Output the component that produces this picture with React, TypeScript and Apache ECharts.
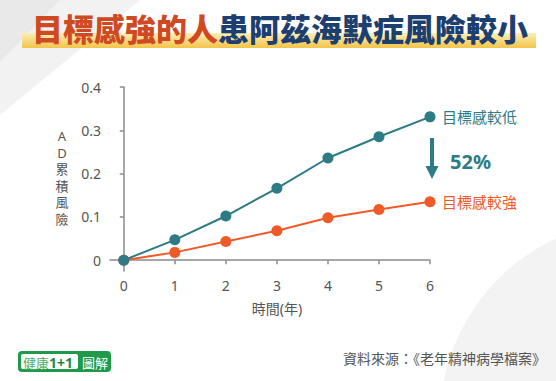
import React, { useEffect, useRef } from "react";
import * as echarts from "echarts";

const years = [0, 1, 2, 3, 4, 5, 6];
const lowPurpose = [0, 0.047, 0.102, 0.166, 0.236, 0.285, 0.331];
const highPurpose = [0, 0.018, 0.043, 0.068, 0.098, 0.117, 0.135];
const yTicks = [0, 0.1, 0.2, 0.3, 0.4];
const xTicks = [0, 1, 2, 3, 4, 5, 6];
const seriesNames = ["目標感較低", "目標感較強"];
const titleA = "目標感強的人";
const titleB = "患阿茲海默症風險較小";
const yName = ["A", "D", "累", "積", "風", "險"];
const xName = "時間(年)";
const reduction = "52%";
const source = "資料來源：《老年精神病學檔案》";

const TEAL = "#2c7b85";
const ORANGE = "#f05a28";
const FONT = "'Noto Sans', 'Noto Sans CJK TC', sans-serif";

export default function App() {
  const ref = useRef<HTMLDivElement>(null);
  useEffect(() => {
    if (!ref.current) return;
    const chart = echarts.init(ref.current, null, { renderer: "svg" });
    const pairs = (arr: number[]) => years.map((y, i) => [y, arr[i]]);
    const yNameTexts = yName.map((ch, i) => ({
      type: "text",
      x: 62,
      y: 136 + i * 16.5,
      style: { text: ch, align: "center", verticalAlign: "middle", fontSize: 13, fill: "#555", fontFamily: FONT },
    }));
    chart.setOption({
      animation: false,
      backgroundColor: "#ffffff",
      textStyle: { fontFamily: FONT },
      grid: { left: 110, right: 126, top: 87, bottom: 110 },
      xAxis: {
        type: "value",
        min: -0.27,
        max: 6,
        splitLine: { show: false },
        axisLine: { show: true, lineStyle: { color: "#8a8a8a", width: 1.5 } },
        axisTick: { show: true, customValues: xTicks, length: 4, lineStyle: { color: "#8a8a8a", width: 1.5 } },
        axisLabel: { customValues: xTicks, color: "#555", fontSize: 14, margin: 7, fontFamily: FONT },
      },
      yAxis: {
        type: "value",
        min: -0.025,
        max: 0.4,
        splitLine: { show: false },
        axisLine: { show: true, lineStyle: { color: "#8a8a8a", width: 1.5 } },
        axisTick: { show: true, customValues: yTicks, length: 4, lineStyle: { color: "#8a8a8a", width: 1.5 } },
        axisLabel: {
          customValues: yTicks,
          color: "#555",
          fontSize: 14,
          margin: 9,
          fontFamily: FONT,
          formatter: (v: number) => (Math.abs(v) < 1e-9 ? "0" : v.toFixed(1)),
        },
      },
      series: [
        {
          name: seriesNames[1],
          type: "line",
          data: pairs(highPurpose),
          symbol: "circle",
          symbolSize: 11,
          itemStyle: { color: ORANGE },
          lineStyle: { color: ORANGE, width: 2 },
          endLabel: { show: true, formatter: "{a}", color: ORANGE, fontSize: 15, distance: 12, fontFamily: FONT },
        },
        {
          name: seriesNames[0],
          type: "line",
          data: pairs(lowPurpose),
          symbol: "circle",
          symbolSize: 11,
          itemStyle: { color: TEAL },
          lineStyle: { color: TEAL, width: 2 },
          endLabel: { show: true, formatter: "{a}", color: TEAL, fontSize: 15, distance: 12, fontFamily: FONT },
        },
      ],
      graphic: [
        {
          type: "polygon",
          z: -10,
          silent: true,
          shape: { points: [[0, 0], [140, 0], [0, 115]] },
          style: { fill: "#f2f2f2" },
        },
        {
          type: "polygon",
          z: -9,
          silent: true,
          shape: { points: [[0, 0], [60, 0], [0, 62]] },
          style: { fill: "#e9e9e9" },
        },
        {
          type: "circle",
          z: -10,
          silent: true,
          shape: { cx: 640, cy: 420, r: 200 },
          style: { fill: "#f3f3f3" },
        },
        {
          type: "rect",
          z: 5,
          shape: { x: 22, y: 33, width: 514, height: 15 },
          style: {
            fill: new echarts.graphic.LinearGradient(0, 0, 0, 1, [
              { offset: 0, color: "#fbefb8" },
              { offset: 1, color: "#f3c449" },
            ]),
          },
        },
        {
          type: "text",
          z: 10,
          x: 280,
          y: 27,
          style: {
            text: `{a|${titleA}}{b|${titleB}}`,
            align: "center",
            verticalAlign: "middle",
            rich: {
              a: { fontSize: 31, fontWeight: 900, fill: "#cf4a22", fontFamily: "'Noto Sans CJK TC', sans-serif" },
              b: { fontSize: 31, fontWeight: 900, fill: "#1d3f6f", fontFamily: "'Noto Sans CJK TC', sans-serif" },
            },
          },
        },
        ...yNameTexts,
        {
          type: "text",
          x: 277,
          y: 308,
          style: { text: xName, align: "center", verticalAlign: "middle", fontSize: 14, fill: "#555", fontFamily: FONT },
        },
        {
          type: "rect",
          shape: { x: 430, y: 138, width: 4, height: 29 },
          style: { fill: TEAL },
        },
        {
          type: "polygon",
          shape: { points: [[425.5, 166], [438.5, 166], [432, 179]] },
          style: { fill: TEAL },
        },
        {
          type: "text",
          x: 450,
          y: 161,
          style: { text: reduction, align: "left", verticalAlign: "middle", fontSize: 20, fontWeight: "bold", fill: TEAL, fontFamily: FONT },
        },
        {
          type: "text",
          x: 546,
          y: 358,
          style: { text: source, align: "right", verticalAlign: "middle", fontSize: 14, fill: "#555", fontFamily: FONT },
        },
        {
          type: "rect",
          shape: { x: 18, y: 351, width: 93, height: 21, r: 4 },
          style: { fill: "#1f9a4b" },
        },
        {
          type: "rect",
          shape: { x: 21, y: 354, width: 57, height: 15, r: 2 },
          style: { fill: "#ffffff" },
        },
        {
          type: "text",
          x: 23,
          y: 362,
          style: {
            text: "{a|健康}{b|1+1}",
            verticalAlign: "middle",
            rich: {
              a: { fontSize: 13, fill: "#4cae6a", fontFamily: "'Noto Sans CJK TC', sans-serif" },
              b: { fontSize: 14, fontWeight: "bold", fill: "#1f8a45", fontFamily: FONT },
            },
          },
        },
        {
          type: "text",
          x: 82,
          y: 362,
          style: { text: "圖解", verticalAlign: "middle", fontSize: 13, fill: "#ffffff", fontFamily: "'Noto Sans CJK TC', sans-serif" },
        },
      ],
    });
    return () => chart.dispose();
  }, []);
  return <div ref={ref} style={{ width: 556, height: 381, position: "absolute", left: 0, top: 0 }} />;
}
